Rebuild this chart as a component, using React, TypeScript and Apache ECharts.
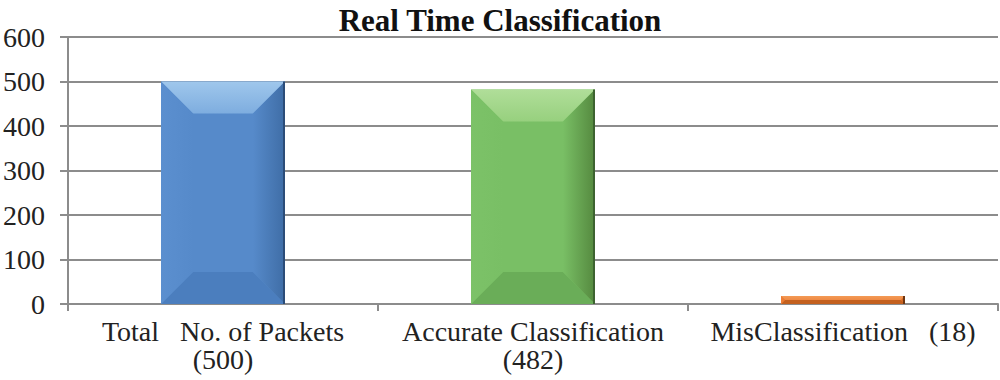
import React, { useEffect, useRef } from "react";
import * as echarts from "echarts";

const categories = ["Total   No. of Packets\n(500)", "Accurate Classification\n(482)", "MisClassification   (18)"];
const values = [500, 482, 18];
const yTicks = { min: 0, max: 600, interval: 100 };

// face colours per bar: [main, topLight, bottom, left, right, edge, topDark]
const palettes = [
  ["#568aca", "#9fc7ec", "#4b7ebe", "#5b8fcf", "#3f6da6", "#2b4c78", "#7eaddf"],
  ["#79bf65", "#b0de99", "#6aad58", "#7cc268", "#55893f", "#3d6330", "#97d07e"],
  ["#ea7830", "#f39a55", "#c4611f", "#ee8038", "#a8531c", "#6e3510", "#ef8a45"],
];

const FONT = "Liberation Serif";

export default function App() {
  const ref = useRef<HTMLDivElement>(null);
  useEffect(() => {
    if (!ref.current) return;
    const chart = echarts.init(ref.current, undefined, { renderer: "svg" });
    const renderItem = (params: any, api: any) => {
      const idx = api.value(0);
      const val = api.value(1);
      const top = api.coord([idx, val]);
      const bot = api.coord([idx, 0]);
      const band = api.size([1, 0])[0];
      const w = band * 0.4;
      const x0 = top[0] - w / 2;
      const x1 = top[0] + w / 2;
      const y0 = top[1];
      const y1 = bot[1];
      const h = y1 - y0;
      const d = Math.min(32, h / 2, w / 2);
      const p = palettes[idx % palettes.length];
      const grad = (c1: string, c2: string, horizontal = false) =>
        new echarts.graphic.LinearGradient(0, 0, horizontal ? 1 : 0, horizontal ? 0 : 1, [
          { offset: 0, color: c1 },
          { offset: 1, color: c2 },
        ]);
      return {
        type: "group",
        children: [
          {
            type: "rect",
            shape: { x: x0, y: y0, width: w, height: h },
            style: { fill: p[0] },
          },
          {
            type: "polygon",
            shape: { points: [[x0, y0], [x1, y0], [x1 - d, y0 + d], [x0 + d, y0 + d]] },
            style: { fill: grad(p[1], p[6]) },
          },
          {
            type: "polygon",
            shape: { points: [[x0, y1], [x1, y1], [x1 - d, y1 - d], [x0 + d, y1 - d]] },
            style: { fill: p[2] },
          },
          {
            type: "polygon",
            shape: { points: [[x0, y0], [x0 + d, y0 + d], [x0 + d, y1 - d], [x0, y1]] },
            style: { fill: grad(p[3], p[0], true) },
          },
          {
            type: "polygon",
            shape: { points: [[x1, y0], [x1 - d, y0 + d], [x1 - d, y1 - d], [x1, y1]] },
            style: { fill: grad(p[0], p[4], true) },
          },
          {
            type: "line",
            shape: { x1: x1 - 1, y1: y0, x2: x1 - 1, y2: y1 },
            style: { stroke: p[5], lineWidth: 2 },
          },
        ],
      };
    };
    chart.setOption({
      animation: false,
      textStyle: { fontFamily: FONT },
      title: {
        text: "Real Time Classification",
        left: "center",
        top: 0,
        textStyle: { fontFamily: FONT, fontSize: 31, fontWeight: "bold", color: "#111" },
      },
      grid: { left: 65, right: 2, top: 37, bottom: 76, containLabel: false },
      xAxis: {
        type: "category",
        data: categories,
        axisLine: { lineStyle: { color: "#8c8c8c", width: 2 } },
        axisTick: { show: true, length: 7, lineStyle: { color: "#8c8c8c", width: 2 } },
        axisLabel: {
          fontFamily: FONT,
          fontSize: 28,
          lineHeight: 28,
          color: "#222",
          margin: 13,
          interval: 0,
        },
      },
      yAxis: {
        type: "value",
        min: yTicks.min,
        max: yTicks.max,
        interval: yTicks.interval,
        axisLine: { show: true, lineStyle: { color: "#8c8c8c", width: 2 } },
        axisTick: { show: true, length: 8, lineStyle: { color: "#8c8c8c", width: 2 } },
        splitLine: { lineStyle: { color: "#8c8c8c", width: 2 } },
        axisLabel: { fontFamily: FONT, fontSize: 28, color: "#222", margin: 23 },
      },
      series: [
        {
          type: "custom",
          renderItem,
          data: values.map((v, i) => [i, v]),
          encode: { x: 0, y: 1 },
        },
      ],
    });
    return () => chart.dispose();
  }, []);
  return (
    <div
      ref={ref}
      style={{ position: "absolute", left: 0, top: 0, width: 1000, height: 380, background: "#fff" }}
    />
  );
}
